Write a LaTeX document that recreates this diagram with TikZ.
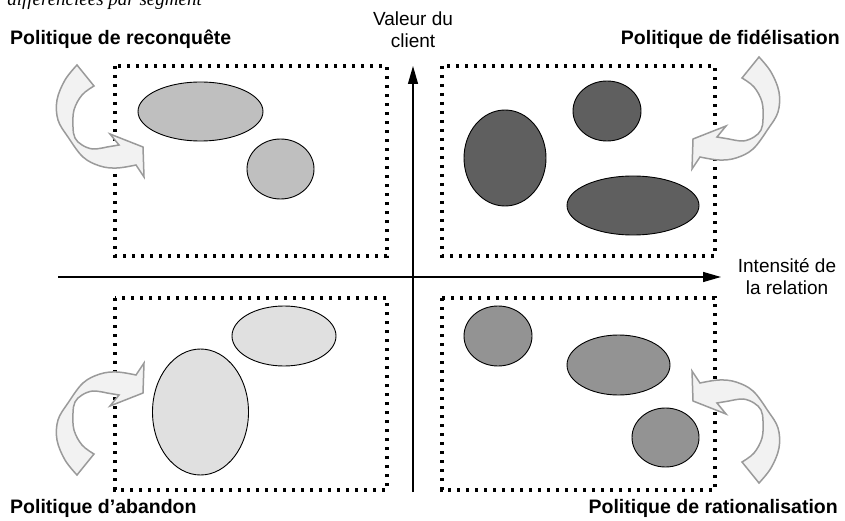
\documentclass[tikz,border=0pt]{standalone}
\usepackage{fontspec}
\setmainfont{Liberation Sans}
\newfontfamily\titlefont{Liberation Serif}
\usetikzlibrary{arrows.meta}

\definecolor{segReconq}{HTML}{BFBFBF}
\definecolor{segFidel}{HTML}{5F5F5F}
\definecolor{segAband}{HTML}{E0E0E0}
\definecolor{segRation}{HTML}{939393}
\definecolor{bendFill}{HTML}{F2F2F2}
\definecolor{bendLine}{HTML}{9A9A9A}

% curved arrow, drawn once in its upper-left place
\newcommand{\bendarrow}{%
  \filldraw[bendshape] plot[smooth, tension=0.6] coordinates {(77,65) (65,80) (57,100) (58,120) (68,137) (83,157) (100,166) (117,168) (136,165)}
    -- (144,177) -- (143,147) -- (110,134) -- (119,145)
    -- plot[smooth, tension=0.6] coordinates {(107,147) (93,149) (82,145) (75,138) (73,127) (74,110) (82,95) (94,86)} -- cycle;}

\begin{document}
\begin{tikzpicture}[x=1pt, y=-1pt,
    axis/.style={line width=1.3pt, -{Triangle[length=18pt, width=10pt]}},
    zone/.style={line width=3.2pt, dash pattern=on 3.2pt off 5.8pt},
    segment/.style={draw=black, line width=0.9pt},
    bendshape/.style={fill=bendFill, draw=bendLine, line width=1.5pt, line join=miter},
    politique/.style={font=\bfseries\fontsize{19.5}{22}\selectfont, inner sep=0pt},
    axislabel/.style={font=\fontsize{19}{22}\selectfont, align=center, inner sep=0pt}]
    \useasboundingbox (0,0) rectangle (845,521);

    % Title (cut at the top)
    \node[anchor=base east, inner sep=0pt, font=\titlefont\itshape\fontsize{19}{22}\selectfont] (soustitre) at (202,6) {différenciées par segment};

    % Axis
    \coordinate (xstart) at (58,277);
    \coordinate (xend) at (721,277);
    \coordinate (ystart) at (413,492);
    \coordinate (yend) at (413,66);
    \draw[axis] (xstart) -- (xend);
    \draw[axis] (ystart) -- (yend);
    \node[axislabel, anchor=north] (valeur) at (413,12) {Valeur du\\client};
    \node[axislabel, anchor=north] (intensite) at (787,258) {Intensité de\\la relation};

    % Zones
    \draw[zone] (115,66) rectangle (387,256);
    \draw[zone] (442,66) rectangle (715,256);
    \draw[zone] (115,298) rectangle (387,490);
    \draw[zone] (442,298) rectangle (715,490);

    % Segments
    \filldraw[segment, fill=segReconq] (200.5,111.5) ellipse [x radius=62.5, y radius=29.5];
    \filldraw[segment, fill=segReconq] (280.5,169) ellipse [x radius=33.5, y radius=30];
    \filldraw[segment, fill=segFidel] (505,158) ellipse [x radius=41, y radius=48];
    \filldraw[segment, fill=segFidel] (607,111) ellipse [x radius=34, y radius=30];
    \filldraw[segment, fill=segFidel] (633,205.5) ellipse [x radius=66, y radius=29.5];
    \filldraw[segment, fill=segAband] (284,336) ellipse [x radius=52, y radius=30];
    \filldraw[segment, fill=segAband] (200.5,412) ellipse [x radius=48, y radius=63];
    \filldraw[segment, fill=segRation] (498,336) ellipse [x radius=34, y radius=30];
    \filldraw[segment, fill=segRation] (618.5,365) ellipse [x radius=51.5, y radius=30];
    \filldraw[segment, fill=segRation] (665.5,437.5) ellipse [x radius=33.5, y radius=29.5];

    % Curved arrows
    \bendarrow
    \begin{scope}[shift={(836,-8)}, xscale=-1]
        \bendarrow
    \end{scope}
    \begin{scope}[shift={(0,540)}, yscale=-1]
        \bendarrow
    \end{scope}
    \begin{scope}[shift={(836,548)}, rotate=180]
        \bendarrow
    \end{scope}

    % Policies
    \node[politique, anchor=base west] (reconquete) at (10,45) {Politique de reconquête};
    \node[politique, anchor=base east] (fidelisation) at (840,45) {Politique de fidélisation};
    \node[politique, anchor=base west] (abandon) at (10,513) {Politique d’abandon};
    \node[politique, anchor=base east] (rationalisation) at (838,513) {Politique de rationalisation};
\end{tikzpicture}
\end{document}
